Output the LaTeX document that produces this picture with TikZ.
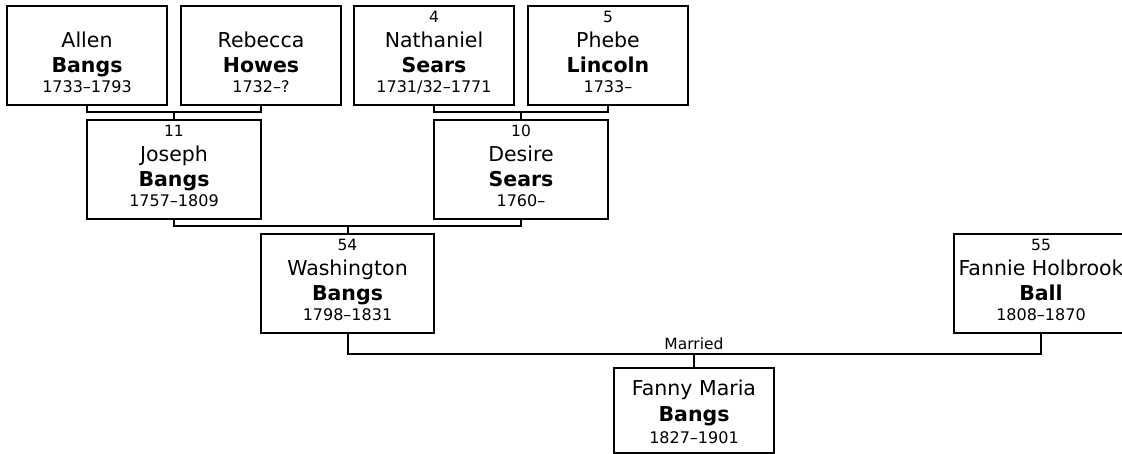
\documentclass[tikz,border=0pt]{standalone}
\usepackage{fontspec}
\setmainfont{DejaVu Sans}
\usetikzlibrary{calc}
\tikzset{
  pbox/.style={draw, line width=2pt, fill=white, inner sep=0pt},
  link/.style={line width=2pt},
  smalltxt/.style={anchor=base, inner sep=0pt, font=\fontsize{15.5}{18}\selectfont},
  yrstxt/.style={anchor=base, inner sep=0pt, font=\fontsize{16}{19}\selectfont},
  nametxt/.style={anchor=base, inner sep=0pt, font=\fontsize{20.5}{24}\selectfont},
  surtxt/.style={anchor=base, inner sep=0pt, font=\fontsize{20.5}{24}\selectfont\bfseries},
}
% #1 id, #2 cx, #3 top, #4 width, #5 number, #6 given, #7 surname, #8 years
\newcommand\personbox[8]{%
  \node[pbox, minimum width=#4pt, minimum height=99pt] (#1) at (#2,{#3+49.5}) {};
  \node[smalltxt] (#1-num) at (#2,{#3+17}) {#5};
  \node[nametxt] (#1-given) at (#2,{#3+42}) {#6};
  \node[surtxt] (#1-sur) at (#2,{#3+67}) {#7};
  \node[yrstxt] (#1-yrs) at (#2,{#3+87}) {#8};
}
\begin{document}
\begin{tikzpicture}[x=1pt,y=-1pt]
\useasboundingbox (0,0) rectangle (1122,454);
\clip (0,0) rectangle (1122,454);
\fill[white] (0,0) rectangle (1122,454);

\personbox{allen}{87}{6}{160}{}{Allen}{Bangs}{1733–1793}
\personbox{rebecca}{261}{6}{160}{}{Rebecca}{Howes}{1732–?}
\personbox{nathaniel}{434}{6}{160}{4}{Nathaniel}{Sears}{1731/32–1771}
\personbox{phebe}{608}{6}{160}{5}{Phebe}{Lincoln}{1733–}
\personbox{joseph}{174}{120}{174}{11}{Joseph}{Bangs}{1757–1809}
\personbox{desire}{521}{120}{174}{10}{Desire}{Sears}{1760–}
\personbox{washington}{347.5}{234}{173}{54}{Washington}{Bangs}{1798–1831}
\personbox{fannieh}{1041}{234}{174}{55}{Fannie Holbrook}{Ball}{1808–1870}

% Fanny Maria (no number line)
\node[pbox, minimum width=160pt, minimum height=85pt] (fanny) at (694,410.5) {};
\node[nametxt] (fanny-given) at (694,395) {Fanny Maria};
\node[surtxt] (fanny-sur) at (694,421) {Bangs};
\node[yrstxt] (fanny-yrs) at (694,443) {1827–1901};

% connectors
\coordinate (j1) at (174,112);
\draw[link] (allen.south) |- (j1) -| (rebecca.south);
\draw[link] (j1) -- (joseph.north);

\coordinate (j2) at (521,112);
\draw[link] (nathaniel.south) |- (j2) -| (phebe.south);
\draw[link] (j2) -- (desire.north);

\coordinate (j3) at (347.5,226);
\draw[link] (joseph.south) |- (j3) -| (desire.south);
\draw[link] (j3) -- (washington.north);

\coordinate (j4) at (694,354);
\draw[link] (washington.south) |- (j4) -| (fannieh.south);
\draw[link] (j4) -- (fanny.north);
\node[smalltxt, font=\fontsize{15.5}{18}\selectfont] (married) at (694,349.5) {Married};
\end{tikzpicture}
\end{document}
